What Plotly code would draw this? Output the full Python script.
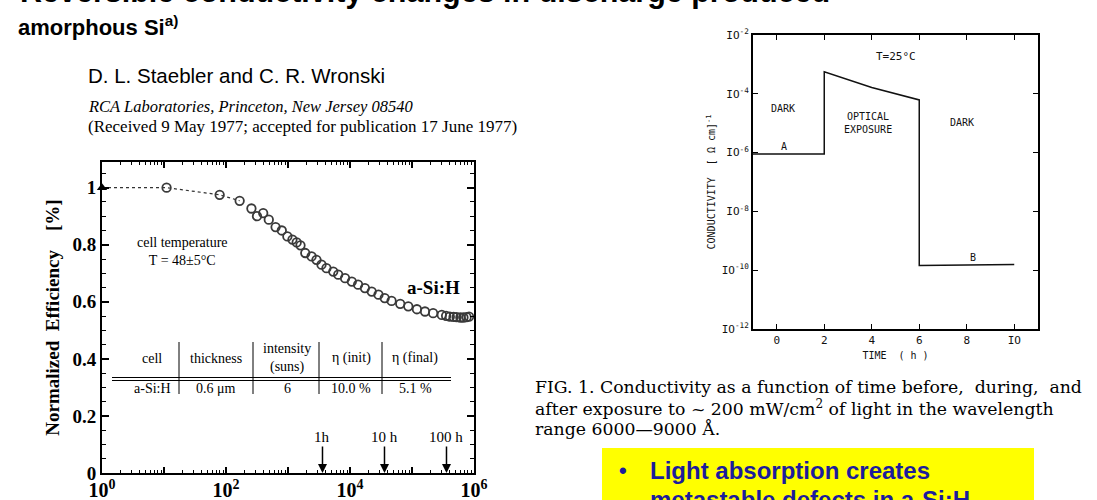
import math
import plotly.graph_objects as go

W, H = 1097, 500

# ---------------- data: left chart (normalized efficiency vs time) ----------------
eff_time_s = [11, 79, 166, 257, 316, 398, 490, 631, 794, 977, 1180, 1380, 1590, 1900,
              2400, 2880, 3470, 4170, 5370, 6460, 8320, 10700, 13500, 17400, 22400,
              28800, 36300, 46800, 64600, 87100, 120000, 162000, 219000, 302000,
              355000, 407000, 468000, 525000, 603000, 676000, 759000, 832000]
eff_norm = [1.000, 0.975, 0.954, 0.927, 0.900, 0.911, 0.888, 0.862, 0.850, 0.829,
            0.818, 0.808, 0.798, 0.771, 0.759, 0.747, 0.730, 0.718, 0.706, 0.695,
            0.683, 0.671, 0.660, 0.648, 0.636, 0.625, 0.613, 0.603, 0.593, 0.584,
            0.574, 0.566, 0.560, 0.554, 0.551, 0.548, 0.547, 0.546, 0.545, 0.545,
            0.546, 0.548]
initial_time_s = [1]
initial_eff = [1.0]
dotted_time_s = [1, 11, 79, 166]
dotted_eff = [1.0, 1.0, 0.975, 0.954]

left_x_tickvals = [1, 10, 100, 1e3, 1e4, 1e5, 1e6]
left_x_ticktext = ['10<sup>0</sup>', '', '10<sup>2</sup>', '', '10<sup>4</sup>', '', '10<sup>6</sup>']
left_y_tickvals = [0, 0.2, 0.4, 0.6, 0.8, 1.0]
left_y_ticktext = ['0', '0.2', '0.4', '0.6', '0.8', '1']

marker_seconds = [3600, 36000, 360000]
marker_labels = ['1h', '10 h', '100 h']

table_header = ['cell', 'thickness', 'intensity<br>(suns)', 'η (init)', 'η (final)']
table_row = ['a-Si:H', '0.6 μm', '6', '10.0 %', '5.1 %']

# ---------------- data: right chart (conductivity vs time) ----------------
cond_time_h = [-1, 2, 2, 4, 6, 6, 10]
cond_value = [8.9e-7, 8.9e-7, 5.6e-4, 1.65e-4, 6.2e-5, 1.45e-10, 1.55e-10]
right_x_tickvals = [0, 2, 4, 6, 8, 10]
right_x_ticktext = ['0', '2', '4', '6', '8', 'IO']
right_y_tickvals = [1e-12, 1e-10, 1e-8, 1e-6, 1e-4, 1e-2]
right_y_ticktext = ['IO<sup>-12</sup>', 'IO<sup>-10</sup>', 'IO<sup>-8</sup>',
                    'IO<sup>-6</sup>', 'IO<sup>-4</sup>', 'IO<sup>-2</sup>']


def px(x):
    return x / W


def py(y):
    return 1 - y / H


SERIF = "Liberation Serif, Times New Roman, serif"
SANS = "Liberation Sans, Arial, sans-serif"
MONO = "DejaVu Sans Mono, monospace"
CAP = "DejaVu Serif, serif"
BLUE = "#1C1C9C"

fig = go.Figure()

# left chart traces
fig.add_trace(go.Scatter(x=dotted_time_s, y=dotted_eff, mode='lines',
                         line=dict(color='#333', width=1.2, dash='dot'),
                         xaxis='x', yaxis='y', hoverinfo='skip', showlegend=False))
fig.add_trace(go.Scatter(x=eff_time_s, y=eff_norm, mode='markers',
                         marker=dict(symbol='circle-open', size=8.5, color='#3a3a3a',
                                     line=dict(width=1.8, color='#3a3a3a')),
                         xaxis='x', yaxis='y', showlegend=False))
fig.add_trace(go.Scatter(x=initial_time_s, y=initial_eff, mode='markers',
                         marker=dict(symbol='triangle-up', size=9, color='black'),
                         cliponaxis=False, xaxis='x', yaxis='y', showlegend=False))

# right chart trace
fig.add_trace(go.Scatter(x=cond_time_h, y=cond_value, mode='lines',
                         line=dict(color='#111', width=1.5),
                         xaxis='x2', yaxis='y2', showlegend=False))

annotations = []
shapes = []

# ---- page text ----
annotations.append(dict(xref='paper', yref='paper', x=px(18), y=py(-8),
                        xanchor='left', yanchor='middle', showarrow=False,
                        text='<b>Reversible conductivity changes in discharge produced</b>',
                        font=dict(family=SANS, size=30.5, color='black')))
annotations.append(dict(xref='paper', yref='paper', x=px(16), y=py(26),
                        xanchor='left', yanchor='middle', showarrow=False,
                        text='<b>amorphous Si<sup>a)</sup></b>',
                        font=dict(family=SANS, size=22, color='black')))
annotations.append(dict(xref='paper', yref='paper', x=px(86), y=py(75),
                        xanchor='left', yanchor='middle', showarrow=False,
                        text='D. L. Staebler and C. R. Wronski',
                        font=dict(family=SANS, size=20.5, color='black')))
annotations.append(dict(xref='paper', yref='paper', x=px(86), y=py(107),
                        xanchor='left', yanchor='middle', showarrow=False,
                        text='<i>RCA Laboratories, Princeton, New Jersey 08540</i>',
                        font=dict(family=SERIF, size=16.5, color='black')))
annotations.append(dict(xref='paper', yref='paper', x=px(86), y=py(126),
                        xanchor='left', yanchor='middle', showarrow=False,
                        text='(Received 9 May 1977; accepted for publication 17 June 1977)',
                        font=dict(family=SERIF, size=17, color='black')))

# ---- caption ----
caption_lines = ['FIG. 1. Conductivity as a function of time before,  during,  and',
                 'after exposure to ~ 200 mW/cm<sup>2</sup> of light in the wavelength',
                 'range 6000—9000 Å.']
for i, line in enumerate(caption_lines):
    annotations.append(dict(xref='paper', yref='paper', x=px(533), y=py(387 + 21 * i),
                            xanchor='left', yanchor='middle', showarrow=False,
                            text=line, font=dict(family=CAP, size=17.3, color='black')))

# ---- yellow box ----
shapes.append(dict(type='rect', xref='paper', yref='paper', x0=px(602), x1=px(1034),
                   y0=py(448), y1=py(520), fillcolor='#FFFF00', line=dict(width=0),
                   layer='below'))
annotations.append(dict(xref='paper', yref='paper', x=px(617), y=py(470),
                        xanchor='left', yanchor='middle', showarrow=False,
                        text='<b>•</b>', font=dict(family=SANS, size=22, color=BLUE)))
annotations.append(dict(xref='paper', yref='paper', x=px(648), y=py(470),
                        xanchor='left', yanchor='middle', showarrow=False,
                        text='<b>Light absorption creates</b>',
                        font=dict(family=SANS, size=24, color=BLUE)))
annotations.append(dict(xref='paper', yref='paper', x=px(648), y=py(499),
                        xanchor='left', yanchor='middle', showarrow=False,
                        text='<b>metastable defects in a-Si:H</b>',
                        font=dict(family=SANS, size=24, color=BLUE)))

# ---- left chart annotations ----
annotations.append(dict(xref='paper', yref='paper', x=px(182), y=py(251),
                        xanchor='center', yanchor='middle', showarrow=False,
                        text='cell temperature<br>T = 48±5°C',
                        font=dict(family=SERIF, size=14, color='black')))
annotations.append(dict(xref='paper', yref='paper', x=px(433), y=py(287),
                        xanchor='center', yanchor='middle', showarrow=False,
                        text='<b>a-Si:H</b>',
                        font=dict(family=SERIF, size=19, color='black')))

col_centers = [152, 216, 287, 351, 415]
for cx, htxt, rtxt in zip(col_centers, table_header, table_row):
    annotations.append(dict(xref='paper', yref='paper', x=px(cx), y=py(358),
                            xanchor='center', yanchor='middle', showarrow=False,
                            text=htxt, font=dict(family=SERIF, size=14, color='black')))
    annotations.append(dict(xref='paper', yref='paper', x=px(cx), y=py(388),
                            xanchor='center', yanchor='middle', showarrow=False,
                            text=rtxt, font=dict(family=SERIF, size=14, color='black')))
for yy in (377.5, 380.5):
    shapes.append(dict(type='line', xref='paper', yref='paper', x0=px(112), x1=px(451),
                       y0=py(yy), y1=py(yy), line=dict(color='black', width=1)))
for xx in (179, 253, 319, 382):
    shapes.append(dict(type='line', xref='paper', yref='paper', x0=px(xx), x1=px(xx),
                       y0=py(342), y1=py(394), line=dict(color='black', width=1)))

for t, lab in zip(marker_seconds, marker_labels):
    annotations.append(dict(xref='x', yref='y', x=math.log10(t), y=0.0,
                            ax=0, ay=-36, showarrow=True, arrowhead=2, arrowsize=1.2,
                            arrowwidth=1.5, arrowcolor='black', standoff=0,
                            text=lab, font=dict(family=SERIF, size=15, color='black')))

# ---- right chart annotations ----
def rtext(x, ylog, text, size=11):
    annotations.append(dict(xref='x2', yref='y2', x=x, y=ylog, showarrow=False,
                            xanchor='center', yanchor='middle', text=text,
                            font=dict(family=MONO, size=size, color='#111')))

rtext(5.0, -2.72, 'T=25°C', 11)
rtext(0.25, -4.5, 'DARK', 10)
rtext(3.85, -4.98, 'OPTICAL<br>EXPOSURE', 10)
rtext(7.8, -4.98, 'DARK', 10)
rtext(0.3, -5.78, 'A', 10)
rtext(8.25, -9.57, 'B', 10)

fig.update_layout(
    width=W, height=H, template='none',
    margin=dict(l=0, r=0, t=0, b=0),
    paper_bgcolor='white', plot_bgcolor='white',
    showlegend=False,
    font=dict(family=SERIF, color='black'),
    annotations=annotations, shapes=shapes,
    xaxis=dict(type='log', range=[0, 6], domain=[px(102), px(474)], anchor='y',
               showgrid=False, zeroline=False, showline=True, linecolor='black',
               linewidth=2, mirror='ticks', ticks='inside', ticklen=6, tickwidth=1.5,
               tickcolor='black', tickmode='array', tickvals=left_x_tickvals,
               ticktext=left_x_ticktext, ticklabelstandoff=-2,
               tickfont=dict(family=SERIF, size=20, color='black', weight='bold'),
               minor=dict(ticks='inside', ticklen=3, tickwidth=1, tickcolor='black',
                          dtick='D1', showgrid=False),
               automargin=False),
    yaxis=dict(range=[0, 1.09], domain=[py(473), py(162)], anchor='x',
               showgrid=False, zeroline=False, showline=True, linecolor='black',
               linewidth=2, mirror='ticks', ticks='inside', ticklen=7, tickwidth=1.5,
               tickcolor='black', tickmode='array', tickvals=left_y_tickvals,
               ticktext=left_y_ticktext,
               tickfont=dict(family=SERIF, size=19, color='black', weight='bold'),
               minor=dict(ticks='inside', ticklen=4, tickwidth=1, tickcolor='black',
                          dtick=0.05, tick0=0, showgrid=False),
               title=dict(text='Normalized  Efficiency    [%]', standoff=8,
                          font=dict(family=SERIF, size=19, color='black', weight='bold')),
               automargin=False),
    xaxis2=dict(range=[-1, 11], domain=[px(753), px(1038)], anchor='y2',
                showgrid=False, zeroline=False, showline=True, linecolor='black',
                linewidth=2, mirror='ticks', ticks='inside', ticklen=5, tickwidth=1,
                tickcolor='black', tickmode='array', tickvals=right_x_tickvals,
                ticktext=right_x_ticktext,
                tickfont=dict(family=MONO, size=11, color='#111'),
                title=dict(text='TIME  ( h )', standoff=6,
                           font=dict(family=MONO, size=10, color='#111')),
                automargin=False),
    yaxis2=dict(type='log', range=[-12, -2], domain=[py(329), py(35)], anchor='x2',
                showgrid=False, zeroline=False, showline=True, linecolor='black',
                linewidth=2, mirror='ticks', ticks='inside', ticklen=5, tickwidth=1,
                tickcolor='black', tickmode='array', tickvals=right_y_tickvals,
                ticktext=right_y_ticktext,
                tickfont=dict(family=MONO, size=11, color='#111'),
                title=dict(text='CONDUCTIVITY  [ Ω cm]<sup>-1</sup>', standoff=4,
                           font=dict(family=MONO, size=10, color='#111')),
                automargin=False),
)

fig.write_html("out.html", config={'displayModeBar': False},
               post_script="document.body.style.margin='0';document.body.style.overflow='hidden';")
